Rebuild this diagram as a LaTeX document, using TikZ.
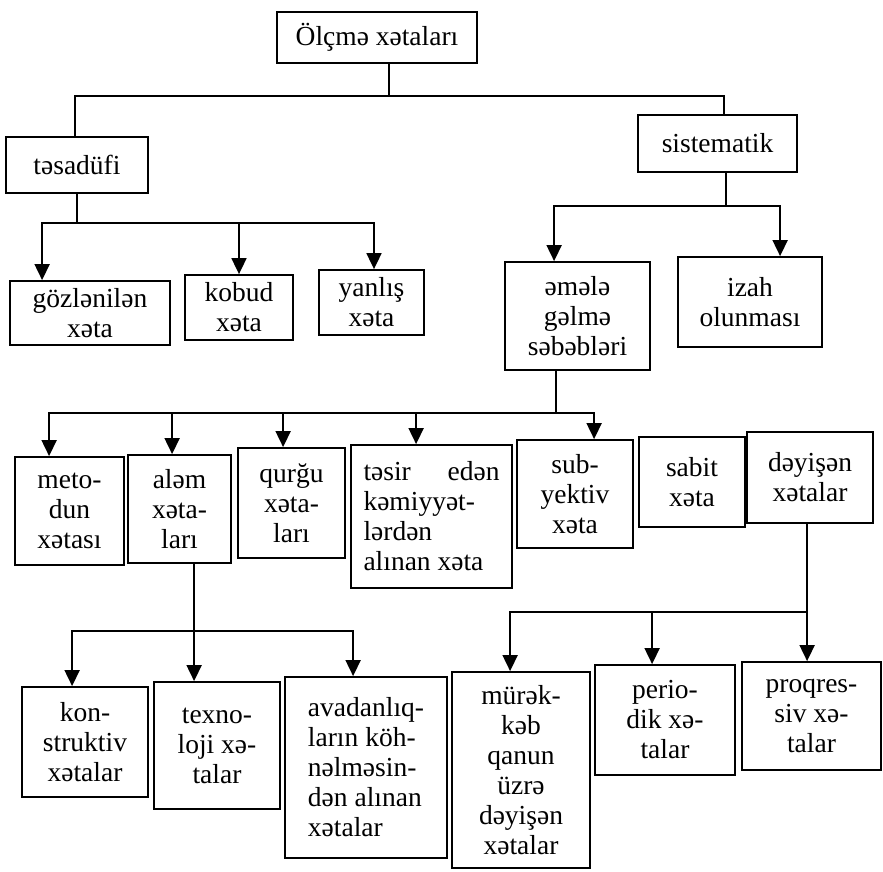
\documentclass[tikz,border=0pt]{standalone}
\usepackage{fontspec}
\setmainfont{Liberation Serif}
\usetikzlibrary{arrows.meta}
\begin{document}
\begin{tikzpicture}[x=1pt,y=-1pt,
  box/.style={draw, line width=1.8pt, inner sep=2pt, align=center,
    font=\fontsize{27.5}{30}\selectfont},
  ln/.style={line width=1.8pt},
  arr/.style={line width=1.8pt, -{Triangle[length=16pt,width=15pt]}}]
\path[fill=white,use as bounding box] (0,0) rectangle (883,871);

% level 0-1
\node[box, minimum width=200pt, minimum height=51pt] (top) at (377,37.5) {Ölçmə xətaları};
\node[box, minimum width=142pt, minimum height=56pt] (tesadufi) at (77,165) {təsadüfi};
\node[box, minimum width=159pt, minimum height=57pt] (sistematik) at (717.5,143.5) {sistematik};

% level 2
\node[box, minimum width=160pt, minimum height=64pt] (gozl) at (90,313) {gözlənilən\\xəta};
\node[box, minimum width=108pt, minimum height=65pt] (kobud) at (239,307.5) {kobud\\xəta};
\node[box, minimum width=105pt, minimum height=65pt] (yanlis) at (371.5,302.5) {yanlış\\xəta};
\node[box, minimum width=145pt, minimum height=108pt] (emele) at (577.5,316) {əmələ\\gəlmə\\səbəbləri};
\node[box, minimum width=144pt, minimum height=90pt] (izah) at (750,302) {izah\\olunması};

% level 3
\node[box, minimum width=109pt, minimum height=108pt] (metod) at (69.5,511) {meto-\\dun\\xətası};
\node[box, minimum width=103pt, minimum height=108pt] (alem) at (179.5,509) {aləm\\xəta-\\ları};
\node[box, minimum width=107pt, minimum height=110pt] (qurgu) at (291.5,503) {qurğu\\xəta-\\ları};
\node[box, minimum width=161pt, minimum height=143pt, align=left] (tesir) at (431.5,516.5)
  {\makebox[136pt][s]{təsir edən}\\kəmiyyət-\\lərdən\\alınan xəta};
\node[box, minimum width=116pt, minimum height=108pt] (subyekt) at (575,494) {sub-\\yektiv\\xəta};
\node[box, minimum width=106pt, minimum height=90pt] (sabit) at (692,482) {sabit\\xəta};
\node[box, minimum width=126pt, minimum height=91pt] (deyisen) at (810,477.5) {dəyişən\\xətalar};

% level 4
\node[box, minimum width=126pt, minimum height=110pt] (konst) at (85,742) {kon-\\struktiv\\xətalar};
\node[box, minimum width=126pt, minimum height=127pt] (texno) at (217,745.5) {texno-\\loji xə-\\talar};
\node[box, minimum width=162pt, minimum height=181pt, align=left] (avad) at (366,767.5)
  {avadanlıq-\\ların köh-\\nəlməsin-\\dən alınan\\xətalar};
\node[box, minimum width=138pt, minimum height=196pt] (murek) at (521,770) {mürək-\\kəb\\qanun\\üzrə\\dəyişən\\xətalar};
\node[box, minimum width=140pt, minimum height=110pt] (period) at (665,720) {perio-\\dik xə-\\talar};
\node[box, minimum width=139pt, minimum height=108pt] (proq) at (811.5,716) {proqres-\\siv xə-\\talar};

% connectors: top
\draw[ln] ([xshift=12pt]top.south) -- ++(0,32) coordinate (j0);
\draw[ln] ([xshift=-2pt]tesadufi.north) |- (j0) -| ([xshift=6.5pt]sistematik.north);

% tesadufi
\draw[ln] (tesadufi.south) -- ++(0,29) coordinate (j1);
\draw[arr] (j1) -| ([xshift=33pt]gozl.north west);
\draw[arr] (j1) -| (kobud.north);
\draw[arr] (j1) -| ([xshift=2.5pt]yanlis.north);

% sistematik
\draw[ln] ([xshift=8.5pt]sistematik.south) -- ++(0,33) coordinate (j2);
\draw[arr] (j2) -| ([xshift=50pt]emele.north west);
\draw[arr] (j2) -| ([xshift=103pt]izah.north west);

% emele
\draw[ln] ([xshift=52pt]emele.south west) -- ++(0,42) coordinate (j3);
\draw[arr] (j3) -| ([xshift=35pt]metod.north west);
\draw[arr] (j3) -| ([xshift=45pt]alem.north west);
\draw[arr] (j3) -| ([xshift=46pt]qurgu.north west);
\draw[arr] (j3) -| ([xshift=66pt]tesir.north west);
\draw[arr] (j3) -| ([xshift=78pt]subyekt.north west);

% alem
\coordinate (a0) at ([xshift=67pt]alem.south west);
\coordinate (j4) at (a0 |- 0,631);
\draw[arr] (a0) -- (a0 |- texno.north);
\draw[arr] (j4) -| ([xshift=51pt]konst.north west);
\draw[arr] (j4) -| ([xshift=69pt]avad.north west);

% deyisen
\coordinate (d0) at ([xshift=61pt]deyisen.south west);
\coordinate (j5) at (d0 |- 0,612);
\draw[arr] (d0) -- (d0 |- proq.north);
\draw[arr] (j5) -| ([xshift=59pt]murek.north west);
\draw[arr] (j5) -| ([xshift=58pt]period.north west);
\end{tikzpicture}
\end{document}
